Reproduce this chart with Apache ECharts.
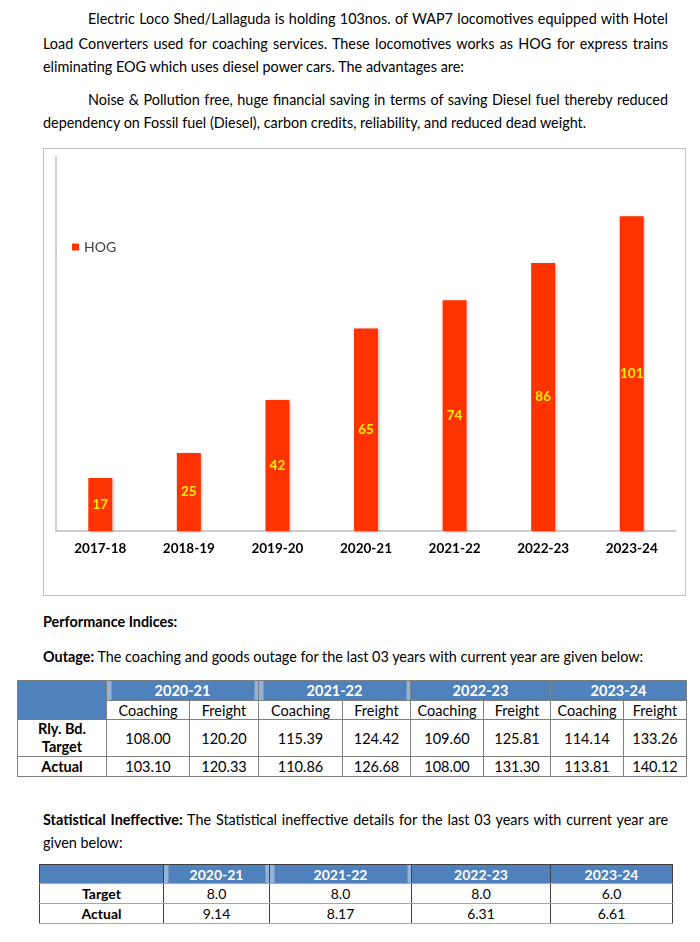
<!DOCTYPE html>
<html><head><meta charset="utf-8">
<script src="https://cdn.jsdelivr.net/npm/echarts@6/dist/echarts.min.js"></script>
<style>
html,body{margin:0;padding:0;background:#fff;}
body{width:700px;height:942px;position:relative;overflow:hidden;font-family:Lato,'Liberation Sans',sans-serif;color:#000;}
.ln{position:absolute;height:24px;line-height:24px;font-size:14.4px;white-space:nowrap;}
.j{text-align:justify;text-align-last:justify;white-space:normal;overflow:hidden;word-spacing:-1.5px;}
#chart{position:absolute;left:43px;top:148px;width:643px;height:448px;border:1px solid #BFBFBF;box-sizing:border-box;}
table{position:absolute;border-collapse:collapse;table-layout:fixed;font-family:Lato,'Liberation Sans',sans-serif;}
td,th{padding:0;text-align:center;vertical-align:middle;overflow:hidden;white-space:nowrap;}
#t1 td,#t1 th{border:1px solid #7F7F7F;font-size:14.5px;}
#t1 th{background:#4F81BD;color:#fff;font-weight:bold;}
#t1 td.lab{font-weight:bold;white-space:normal;line-height:18px;}
#t2 td,#t2 th{border-left:1px solid #404040;border-right:1px solid #404040;border-top:1px solid #A6A6A6;border-bottom:1px solid #A6A6A6;font-size:14px;}
#t2 th{background:#4F81BD;color:#fff;font-weight:bold;border-top:1px solid #404040;}
#t2 td.lab{font-weight:bold;}
th.sLR{background:linear-gradient(to right,#95B3D7 0,#95B3D7 4px,#4F81BD 4px,#4F81BD calc(100% - 4px),#95B3D7 calc(100% - 4px))!important;}
</style>
</head>
<body>
<div class="ln j" style="left:88px;top:7px;width:580px;">Electric Loco Shed/Lallaguda is holding 103nos. of WAP7 locomotives equipped with Hotel</div>
<div class="ln j" style="left:43px;top:32px;width:625px;">Load Converters used for coaching services. These locomotives works as HOG for express trains</div>
<div class="ln" style="left:43px;top:55px;">eliminating EOG which uses diesel power cars. The advantages are:</div>
<div class="ln j" style="left:88px;top:88px;width:580px;">Noise &amp; Pollution free, huge financial saving in terms of saving Diesel fuel thereby reduced</div>
<div class="ln" style="left:43px;top:111px;">dependency on Fossil fuel (Diesel), carbon credits, reliability, and reduced dead weight.</div>

<div id="chart"></div>

<div class="ln" style="left:43px;top:610px;font-weight:bold;">Performance Indices:</div>
<div class="ln" style="left:43px;top:645px;"><b>Outage:</b> The coaching and goods outage for the last 03 years with current year are given below:</div>
<table id="t1" style="left:17px;top:680px;width:669px;"></table>

<div class="ln j" style="left:43px;top:808px;width:625px;"><b>Statistical Ineffective:</b> The Statistical ineffective details for the last 03 years with current year are</div>
<div class="ln" style="left:43px;top:831px;">given below:</div>
<table id="t2" style="left:39px;top:864px;width:633px;"></table>

<script>
// ---- chart data ----
const categories = ['2017-18','2018-19','2019-20','2020-21','2021-22','2022-23','2023-24'];
const hogValues = [17, 25, 42, 65, 74, 86, 101];
const seriesName = 'HOG';

// ---- outage table data ----
const outageYears = ['2020-21','2021-22','2022-23','2023-24'];
const outageSubCols = ['Coaching','Freight'];
const outageTarget = ['108.00','120.20','115.39','124.42','109.60','125.81','114.14','133.26'];
const outageActual = ['103.10','120.33','110.86','126.68','108.00','131.30','113.81','140.12'];

// ---- statistical ineffective data ----
const sinYears = ['2020-21','2021-22','2022-23','2023-24'];
const sinTarget = ['8.0','8.0','8.0','6.0'];
const sinActual = ['9.14','8.17','6.31','6.61'];

const headerStrip = ['sLR','sLR','',''];

// build table 1
(function(){
  const w = [89,83,69,84,68,73,67,73,63];
  let h = '<colgroup>' + w.map(x => '<col style="width:' + x + 'px">').join('') + '</colgroup>';
  h += '<tr style="height:20px"><th rowspan="2"></th>' + outageYears.map((y,i) => '<th colspan="2" class="' + headerStrip[i] + '">' + y + '</th>').join('') + '</tr>';
  h += '<tr style="height:19px">' + outageYears.map(() => outageSubCols.map(c => '<td>' + c + '</td>').join('')).join('') + '</tr>';
  h += '<tr style="height:36px"><td class="lab">Rly. Bd.<br>Target</td>' + outageTarget.map(v => '<td>' + v + '</td>').join('') + '</tr>';
  h += '<tr style="height:20px"><td class="lab">Actual</td>' + outageActual.map(v => '<td>' + v + '</td>').join('') + '</tr>';
  document.getElementById('t1').innerHTML = h;
})();

// build table 2
(function(){
  const w = [124,106,142,139,122];
  let h = '<colgroup>' + w.map(x => '<col style="width:' + x + 'px">').join('') + '</colgroup>';
  h += '<tr style="height:19px"><th></th>' + sinYears.map((y,i) => '<th class="' + headerStrip[i] + '">' + y + '</th>').join('') + '</tr>';
  h += '<tr style="height:20px"><td class="lab">Target</td>' + sinTarget.map(v => '<td>' + v + '</td>').join('') + '</tr>';
  h += '<tr style="height:20px"><td class="lab">Actual</td>' + sinActual.map(v => '<td>' + v + '</td>').join('') + '</tr>';
  document.getElementById('t2').innerHTML = h;
})();

const FONT = "Lato, 'Liberation Sans', sans-serif";
const chart = echarts.init(document.getElementById('chart'), null, {renderer:'canvas'});
chart.setOption({
  animation: false,
  backgroundColor: '#fff',
  textStyle: {fontFamily: FONT},
  legend: {
    data: [seriesName], left: 28, top: 91, padding: 0,
    icon: 'rect', itemWidth: 7, itemHeight: 7, itemGap: 4,
    textStyle: {fontSize: 14, color: '#404040', fontFamily: FONT}
  },
  grid: {left: 12, right: 9, top: 8, bottom: 64, containLabel: false},
  xAxis: {
    type: 'category', data: categories,
    axisLine: {show: true, lineStyle: {color: '#BFBFBF', width: 1.5}},
    axisTick: {show: false},
    axisLabel: {margin: 11, fontWeight: 'bold', fontSize: 13.5, color: '#000', fontFamily: FONT, interval: 0}
  },
  yAxis: {
    type: 'value', min: 0, max: 120,
    axisLine: {show: true, lineStyle: {color: '#BFBFBF', width: 1.5}},
    axisLabel: {show: false}, axisTick: {show: false}, splitLine: {show: false}
  },
  series: [{
    name: seriesName, type: 'bar', data: hogValues, barWidth: 24,
    itemStyle: {color: '#FF3300', shadowColor: 'rgba(0,0,0,0.25)', shadowBlur: 3, shadowOffsetX: 1.5, shadowOffsetY: 1},
    label: {show: true, position: 'inside', color: '#FFF200', fontWeight: 'bold', fontSize: 13.5, fontFamily: FONT}
  }]
});
</script>
</body></html>
